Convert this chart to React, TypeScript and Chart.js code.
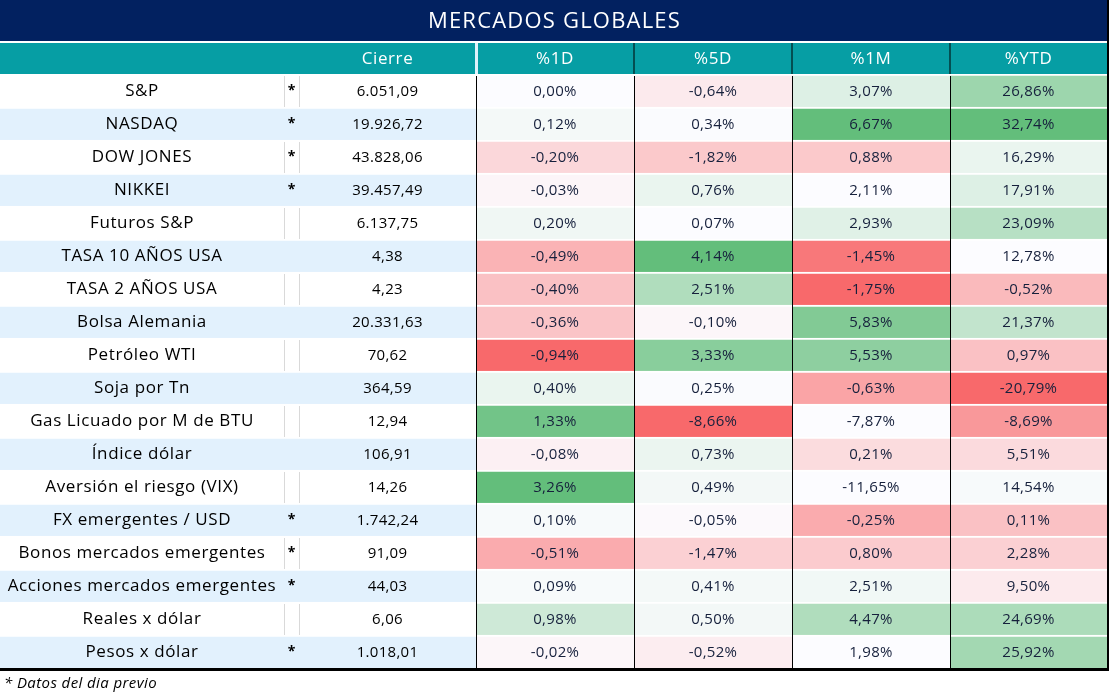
import React, { useEffect, useRef } from "react";
import { Chart, registerables } from "chart.js";

Chart.register(...registerables);

// ---------- data ----------
const TITLE = "MERCADOS GLOBALES";
const HEADERS = ["Cierre", "%1D", "%5D", "%1M", "%YTD"];
const FOOTNOTE = "* Datos del dia previo";

const ROWS = [
  "S&P",
  "NASDAQ",
  "DOW JONES",
  "NIKKEI",
  "Futuros S&P",
  "TASA 10 AÑOS USA",
  "TASA 2 AÑOS USA",
  "Bolsa Alemania",
  "Petróleo WTI",
  "Soja por Tn",
  "Gas Licuado por M de BTU",
  "Índice dólar",
  "Aversión el riesgo (VIX)",
  "FX emergentes / USD",
  "Bonos mercados emergentes",
  "Acciones mercados emergentes",
  "Reales x dólar",
  "Pesos x dólar",
];
const PREVIOUS_DAY = [true, true, true, true, false, false, false, false, false, false, false, false, false, true, true, true, false, true];
const CIERRE = [6051.09, 19926.72, 43828.06, 39457.49, 6137.75, 4.38, 4.23, 20331.63, 70.62, 364.59, 12.94, 106.91, 14.26, 1742.24, 91.09, 44.03, 6.06, 1018.01];
const PCT_1D = [0.0, 0.12, -0.2, -0.03, 0.2, -0.49, -0.4, -0.36, -0.94, 0.4, 1.33, -0.08, 3.26, 0.1, -0.51, 0.09, 0.98, -0.02];
const PCT_5D = [-0.64, 0.34, -1.82, 0.76, 0.07, 4.14, 2.51, -0.1, 3.33, 0.25, -8.66, 0.73, 0.49, -0.05, -1.47, 0.41, 0.5, -0.52];
const PCT_1M = [3.07, 6.67, 0.88, 2.11, 2.93, -1.45, -1.75, 5.83, 5.53, -0.63, -7.87, 0.21, -11.65, -0.25, 0.8, 2.51, 4.47, 1.98];
const PCT_YTD = [26.86, 32.74, 16.29, 17.91, 23.09, 12.78, -0.52, 21.37, 0.97, -20.79, -8.69, 5.51, 14.54, 0.11, 2.28, 9.5, 24.69, 25.92];

// ---------- style (heat tint per cell, -1 red .. 0 white .. 1 green) ----------
const TINT_1D = [0, 0.05, -0.25, -0.05, 0.08, -0.5, -0.4, -0.38, -1, 0.12, 0.9, -0.08, 1, 0.03, -0.55, 0.03, 0.3, -0.04];
const TINT_5D = [-0.12, 0.01, -0.35, 0.12, 0, 1, 0.5, -0.04, 0.75, 0.01, -1, 0.11, 0.06, -0.02, -0.3, 0.05, 0.06, -0.1];
const TINT_1M = [0.2, 1, -0.35, 0, 0.18, -0.9, -1, 0.8, 0.72, -0.6, 0, -0.22, 0, -0.55, -0.33, 0.07, 0.5, 0];
const TINT_YTD = [0.62, 1, 0.12, 0.2, 0.45, 0, -0.45, 0.38, -0.4, -1, -0.68, -0.23, 0.03, -0.4, -0.3, -0.12, 0.52, 0.58];

const W = 1109;
const H = 699;
const COL_WIDTHS = [284, 15, 177, 158, 158, 158, 157];
const TITLE_H = 41;
const HEADER_TOP = 43;
const HEADER_BOTTOM = 74;
const BOTTOM_PAD = 31;
const RIGHT_PAD = 2;

const NAVY = "#022160";
const TEAL = "#069ea4";
const ROW_BLUE = "#E2F1FD";
const TEXT_FONT = '"Open Sans", sans-serif';

function fmt(v: number, pct: boolean): string {
  const neg = v < 0;
  const [ip, dp] = Math.abs(v).toFixed(2).split(".");
  const withDots = ip.replace(/\B(?=(\d{3})+(?!\d))/g, ".");
  return (neg ? "-" : "") + withDots + "," + dp + (pct ? "%" : "");
}

function mix(a: number[], b: number[], t: number): string {
  const c = a.map((x, i) => Math.round(x + (b[i] - x) * t));
  return `rgb(${c[0]},${c[1]},${c[2]})`;
}
const WHITE = [252, 252, 255];
const RED = [248, 105, 107];
const GREEN = [99, 190, 123];
function tintColor(t: number): string {
  return t < 0 ? mix(WHITE, RED, -t) : mix(WHITE, GREEN, t);
}

export default function App() {
  const ref = useRef<HTMLCanvasElement | null>(null);

  useEffect(() => {
    const canvas = ref.current;
    if (!canvas) return;

    const edges: number[] = [0];
    COL_WIDTHS.forEach((w) => edges.push(edges[edges.length - 1] + w));
    const tableW = edges[edges.length - 1];

    const rowBg = ROWS.map((_, i) => (i % 2 === 1 ? ROW_BLUE : "#ffffff"));
    const columns = [
      { texts: ROWS, colors: rowBg, font: `17px ${TEXT_FONT}`, color: "#000000", spacing: "0.6px" },
      { texts: PREVIOUS_DAY.map((p) => (p ? "*" : "")), colors: rowBg, font: `bold 14px ${TEXT_FONT}`, color: "#000000", spacing: "0px" },
      { texts: CIERRE.map((v) => fmt(v, false)), colors: rowBg, font: `500 15px ${TEXT_FONT}`, color: "#000000", spacing: "0.3px" },
      { texts: PCT_1D.map((v) => fmt(v, true)), colors: TINT_1D.map(tintColor), font: `500 15px ${TEXT_FONT}`, color: "#16203c", spacing: "0.3px" },
      { texts: PCT_5D.map((v) => fmt(v, true)), colors: TINT_5D.map(tintColor), font: `500 15px ${TEXT_FONT}`, color: "#16203c", spacing: "0.3px" },
      { texts: PCT_1M.map((v) => fmt(v, true)), colors: TINT_1M.map(tintColor), font: `500 15px ${TEXT_FONT}`, color: "#16203c", spacing: "0.3px" },
      { texts: PCT_YTD.map((v) => fmt(v, true)), colors: TINT_YTD.map(tintColor), font: `500 15px ${TEXT_FONT}`, color: "#16203c", spacing: "0.3px" },
    ];

    const tablePlugin = {
      id: "tableDecor",
      beforeDatasetsDraw(chart: any) {
        const ctx = chart.ctx as CanvasRenderingContext2D;
        const xs = chart.scales.x;
        const px = (v: number) => xs.getPixelForValue(v);
        ctx.save();
        // title
        ctx.fillStyle = NAVY;
        ctx.fillRect(px(0), 0, px(tableW) - px(0), TITLE_H);
        ctx.fillStyle = "#ffffff";
        ctx.font = `22px ${TEXT_FONT}`;
        (ctx as any).letterSpacing = "1.2px";
        ctx.textAlign = "center";
        ctx.textBaseline = "middle";
        ctx.fillText(TITLE, (px(0) + px(tableW)) / 2 + 1, TITLE_H / 2 + 1);
        // header
        ctx.fillStyle = TEAL;
        ctx.fillRect(px(0), HEADER_TOP, px(tableW) - px(0), HEADER_BOTTOM - HEADER_TOP);
        // header separators
        ctx.fillStyle = "#dff1fb";
        ctx.fillRect(px(edges[3]) - 1, HEADER_TOP, 3, HEADER_BOTTOM - HEADER_TOP);
        ctx.fillStyle = "#000000";
        for (let c = 4; c < edges.length - 1; c++) {
          ctx.fillRect(px(edges[c]) - 0.5, HEADER_TOP, 1, HEADER_BOTTOM - HEADER_TOP);
        }
        ctx.fillStyle = "#ffffff";
        ctx.font = `17px ${TEXT_FONT}`;
        (ctx as any).letterSpacing = "0.6px";
        HEADERS.forEach((h, i) => {
          const c = i + 2;
          ctx.fillText(h, (px(edges[c]) + px(edges[c + 1])) / 2, (HEADER_TOP + HEADER_BOTTOM) / 2 + 1);
        });
        ctx.restore();
      },
      afterDatasetsDraw(chart: any) {
        const ctx = chart.ctx as CanvasRenderingContext2D;
        const xs = chart.scales.x;
        const ys = chart.scales.y;
        const px = (v: number) => xs.getPixelForValue(v);
        const area = chart.chartArea;
        ctx.save();
        // light grey separators in white rows of the label area
        ctx.fillStyle = "#d9d9d9";
        ROWS.forEach((_, i) => {
          if (i % 2 === 1) return;
          const cy = ys.getPixelForValue(i);
          const half = (ys.getPixelForValue(1) - ys.getPixelForValue(0)) / 2;
          [edges[1], edges[2]].forEach((e) => {
            ctx.fillRect(Math.round(px(e)), cy - half + 2, 1, half * 2 - 2);
          });
        });
        // black column separators
        ctx.fillStyle = "#000000";
        for (let c = 3; c < edges.length - 1; c++) {
          ctx.fillRect(Math.round(px(edges[c])), area.top + 2, 1, area.bottom - area.top - 2);
        }
        // bottom & right borders
        ctx.fillRect(0, area.bottom, W, 3);
        ctx.fillRect(px(tableW), 0, W - px(tableW), area.bottom + 3);

        // cell texts
        ctx.textAlign = "center";
        ctx.textBaseline = "middle";
        chart.data.datasets.forEach((ds: any, di: number) => {
          const meta = chart.getDatasetMeta(di);
          const col = columns[di];
          ctx.font = col.font;
          (ctx as any).letterSpacing = col.spacing;
          ctx.fillStyle = col.color;
          meta.data.forEach((el: any, ri: number) => {
            const t = col.texts[ri];
            if (!t) return;
            const p = el.getCenterPoint();
            ctx.fillText(t, p.x, p.y + 1);
          });
        });

        // footnote
        ctx.fillStyle = "#000000";
        ctx.font = `italic 15px ${TEXT_FONT}`;
        (ctx as any).letterSpacing = "0.4px";
        ctx.textAlign = "left";
        ctx.fillText(FOOTNOTE, 4, area.bottom + 16);
        ctx.restore();
      },
    };

    const chart = new Chart(canvas, {
      type: "bar",
      data: {
        labels: ROWS,
        datasets: columns.map((col, c) => ({
          label: c < 3 ? ["Nombre", "*", HEADERS[0]][c] : HEADERS[c - 2],
          data: ROWS.map(() => [edges[c], edges[c + 1]] as [number, number]),
          backgroundColor: col.colors,
          borderColor: "#ffffff",
          borderWidth: { top: 2, bottom: 0, left: 0, right: 0 },
          borderSkipped: false,
          barPercentage: 1,
          categoryPercentage: 1,
          grouped: false,
        })) as any,
      },
      options: {
        indexAxis: "y",
        responsive: false,
        animation: false,
        devicePixelRatio: 1,
        layout: { padding: { top: HEADER_BOTTOM, bottom: BOTTOM_PAD, left: 0, right: RIGHT_PAD } },
        plugins: { legend: { display: false }, tooltip: { enabled: false }, title: { display: false } },
        scales: {
          x: { type: "linear", min: 0, max: tableW, display: false },
          y: { type: "category", display: false, offset: true },
        },
      } as any,
      plugins: [tablePlugin],
    });
    return () => chart.destroy();
  }, []);

  return (
    <div style={{ position: "fixed", left: 0, top: 0, width: W, height: H, background: "#ffffff" }}>
      <canvas ref={ref} width={W} height={H} style={{ width: W, height: H, display: "block" }} />
    </div>
  );
}
